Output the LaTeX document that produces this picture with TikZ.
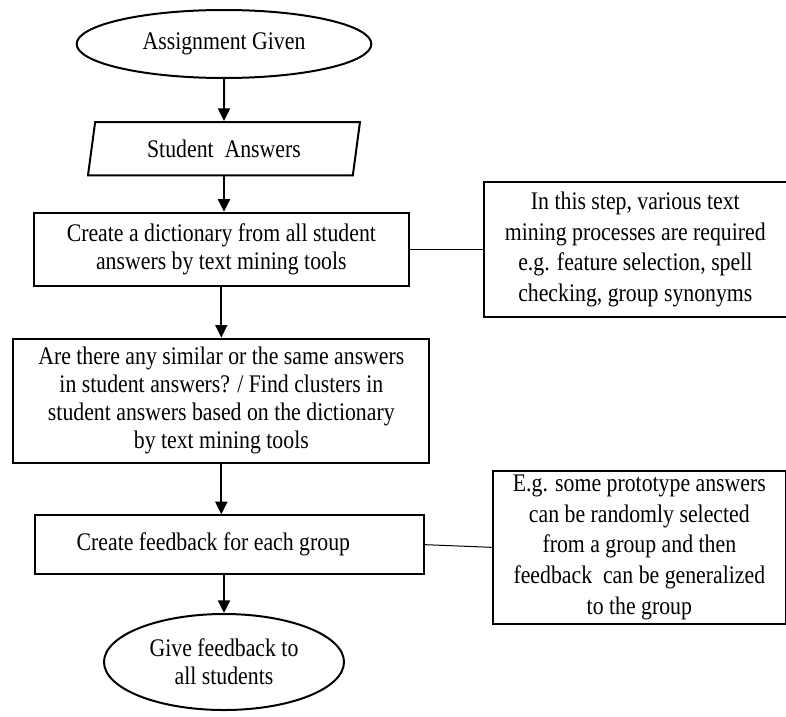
\documentclass[tikz,border=0pt]{standalone}
\usepackage{fontspec}
\setmainfont{Liberation Serif}[FakeStretch=0.86]
\usepackage{tikz}
\usetikzlibrary{arrows.meta, positioning, shapes.geometric}

\begin{document}
\begin{tikzpicture}[
		every node/.style={font=\fontsize{19pt}{21pt}\selectfont},
		terminal/.style={draw, ellipse, line width=1.5pt, inner sep=0pt},
		io/.style={draw, trapezium, trapezium left angle=75, trapezium right angle=105,
			trapezium stretches body, line width=1.5pt, minimum width=204pt, minimum height=40pt},
		box/.style={draw, rectangle, line width=1.5pt, align=center},
		note/.style={draw, rectangle, line width=1.5pt, align=center,
			font=\fontsize{19pt}{23pt}\selectfont},
		arrow/.style={-{Triangle[width=9pt, length=9.5pt]}, line width=1.5pt},
		link/.style={line width=0.75pt}
		]
		
		\useasboundingbox (0,0) rectangle (589.5pt,-537.75pt);
		
		% Main flow
		\node[terminal, minimum width=221pt, minimum height=51pt] (start) at (168pt,-33pt) {Assignment Given};
		
		\node[io, below=31.5pt of start] (answers) {Student\ \ Answers};
		
		\node[box, below=26.5pt of answers, minimum width=281pt, minimum height=55pt, xshift=-2pt] (dict)
			{Create a dictionary from all student\\ answers by text mining tools};
		
		\node[box, below=38pt of dict, minimum width=312pt, minimum height=93pt] (cluster)
			{Are there any similar or the same answers\\
			in student answers? / Find clusters in\\
			student answers based on the dictionary\\
			by text mining tools};
		
		\node[box, below=38pt of cluster, minimum width=292pt, minimum height=44pt, xshift=6pt] (feedback)
			{\raisebox{4pt}{Create feedback for each group}\hspace*{24pt}};
		
		\node[terminal, below=28.5pt of feedback, xshift=-4pt, minimum width=180pt, minimum height=72pt, align=center] (finish)
			{Give feedback to\\ all students};
		
		% Side notes
		\node[note, right=55pt of dict, minimum width=227pt, minimum height=101pt] (note1)
			{In this step, various text\\
			mining processes are required\\
			e.g. feature selection, spell\\
			checking, group synonyms};
		
		\node[note, right=50pt of feedback, yshift=-2pt, minimum width=220pt, minimum height=115pt] (note2)
			{E.g. some prototype answers\\
			can be randomly selected\\
			from a group and then\\
			feedback\ \ can be generalized\\
			to the group};
		
		% Arrows
		\draw[arrow] (start) -- (answers);
		\draw[arrow] (answers.south) -- (answers.south |- dict.north);
		\draw[arrow] (dict.south) -- (dict.south |- cluster.north);
		\draw[arrow] (cluster.south) -- (cluster.south |- feedback.north);
		\draw[arrow] (finish.north |- feedback.south) -- (finish);
		
		% Links to notes
		\draw[link] (dict.east) -- (note1.west);
		\draw[link] (feedback.east) -- (note2.west);
		
	\end{tikzpicture}
\end{document}
